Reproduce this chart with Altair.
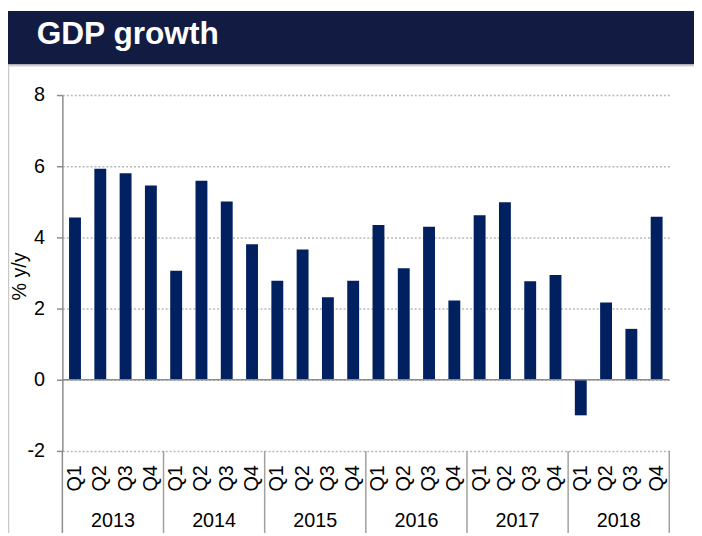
import altair as alt
import pandas as pd

years = ["2013", "2014", "2015", "2016", "2017", "2018"]
quarters = ["Q1", "Q2", "Q3", "Q4"]
growth = [4.56, 5.93, 5.80, 5.46,
          3.06, 5.59, 5.01, 3.81,
          2.78, 3.66, 2.32, 2.78,
          4.35, 3.13, 4.30, 2.23,
          4.62, 4.99, 2.77, 2.94,
          -1.00, 2.17, 1.43, 4.58]
y_ticks = [-2, 0, 2, 4, 6, 8]
title_text = "GDP growth"
y_title = "% y/y"

keys = [f"{y} {q}" for y in years for q in quarters]
df = pd.DataFrame({"key": keys, "value": growth})
years_df = pd.DataFrame({"year": years, "key": [f"{y} Q2" for y in years]})
bounds_df = pd.DataFrame({"key": [f"{y} Q4" for y in years]})
one = pd.DataFrame({"t": [title_text]})

W, H = 614, 360
FONT = "Liberation Sans"
FS = 20
P_IN = 0.53
half_gap = P_IN * (W / len(keys)) / 2

xscale = alt.Scale(domain=keys, paddingInner=P_IN, paddingOuter=P_IN / 2)
yscale = alt.Scale(domain=[-2, 8], nice=False, zero=False)
xaxis = alt.Axis(labelExpr="substring(datum.label, 5)", labelAngle=-90,
                 labelAlign="right", labelBaseline="middle", labelOverlap=False,
                 labelPadding=14, ticks=False, domain=False, grid=False,
                 labelFont=FONT, labelFontSize=FS, labelColor="#000000")
yaxis = alt.Axis(values=y_ticks, labelExpr="'' + datum.value",
                 grid=True, gridDash=[2, 2], gridColor="#B8B8B8",
                 gridWidth=1.5, domainColor="#8C8C8C", domainWidth=1.5,
                 tickColor="#8C8C8C", tickSize=6, tickWidth=1.5,
                 labelPadding=12, labelFont=FONT, labelFontSize=FS,
                 labelColor="#000000", titleFont=FONT, titleFontSize=FS,
                 titleFontWeight="normal", titleColor="#000000",
                 titleX=-43, titleY=183, titleAngle=-90,
                 titleAlign="center", titleBaseline="middle")

bars = alt.Chart(df).mark_bar(color="#002060").encode(
    x=alt.X("key:N", scale=xscale, title=None, axis=xaxis),
    y=alt.Y("value:Q", scale=yscale, title=y_title, axis=yaxis),
)

zero = alt.Chart(one).mark_rule(color="#8C8C8C", strokeWidth=1.5).encode(
    y=alt.Y(datum=0, scale=yscale, title=y_title, axis=yaxis),
    x=alt.value(0), x2=alt.value(W))

year_text = alt.Chart(years_df).mark_text(dx=W / len(keys) / 2, font=FONT, fontSize=FS,
                                          color="#000000", baseline="middle").encode(
    x=alt.X("key:N", scale=xscale, title=None, axis=xaxis),
    y=alt.value(H + 71),
    text="year:N")

seps = alt.Chart(bounds_df).mark_rule(color="#A0A0A0", strokeWidth=1.5,
                                      xOffset=half_gap).encode(
    x=alt.X("key:N", scale=xscale, title=None, axis=xaxis, bandPosition=1),
    y=alt.value(H), y2=alt.value(H + 83))

left_ext = alt.Chart(one).mark_rule(color="#8C8C8C", strokeWidth=1.5).encode(
    x=alt.value(0), y=alt.value(H), y2=alt.value(H + 83))

header = alt.Chart(one).mark_rect(color="#121C42").encode(
    x=alt.value(-55), x2=alt.value(639), y=alt.value(-85), y2=alt.value(-31))
header_line = alt.Chart(one).mark_rule(color="#D0D0D0", strokeWidth=2).encode(
    x=alt.value(-55), x2=alt.value(639), y=alt.value(-30))
border = alt.Chart(one).mark_rule(color="#C8C8C8", strokeWidth=1.5).encode(
    x=alt.value(-54.5), y=alt.value(-30), y2=alt.value(H + 83))
title = alt.Chart(one).mark_text(font=FONT, fontSize=32, fontWeight="bold", color="#FFFFFF",
                                 align="left", baseline="alphabetic").encode(
    x=alt.value(-26), y=alt.value(-52), text="t:N")

chart = alt.layer(header, header_line, border, bars, zero, seps, left_ext, year_text, title).properties(
    width=W, height=H,
    padding={"left": 55, "top": 85, "right": 25, "bottom": 83},
    autosize=alt.AutoSizeParams(type="none"),
    background="#FFFFFF",
).configure_view(stroke=None)

chart.save("out.html", embed_options={"renderer": "svg", "actions": False})
